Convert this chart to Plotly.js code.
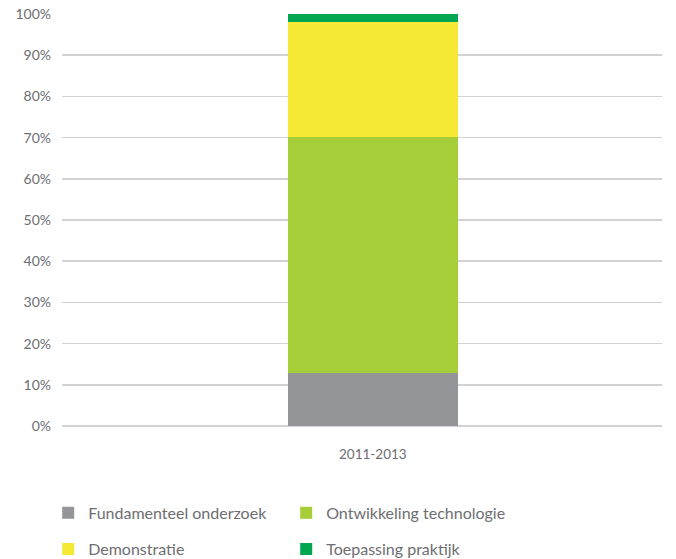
<!DOCTYPE html>
<html><head><meta charset="utf-8">
<script src="https://cdn.plot.ly/plotly-3.0.1.min.js"></script>
<style>html,body{margin:0;padding:0;background:#fff}#chart{width:676px;height:559px}</style>
</head><body><div id="chart"></div>
<script>
const categories = ['2011-2013'];
const seriesNames = ['Fundamenteel onderzoek','Ontwikkeling technologie','Demonstratie','Toepassing praktijk'];
const fundamenteel = [12.9];
const ontwikkeling = [57.2];
const demonstratie = [28.0];
const toepassing = [1.9];
const colors = ['#939598','#a6ce39','#f5e935','#00a650'];
const values = [fundamenteel, ontwikkeling, demonstratie, toepassing];
const legendIds = ['legend','legend','legend2','legend2'];
const font = 'Lato, "Open Sans", sans-serif';
const txt = '#6d6e71';

const traces = values.map((v,i)=>({
  type:'bar', x:categories, y:v, name:seriesNames[i],
  marker:{color:colors[i], line:{width:0}},
  legend: legendIds[i], hoverinfo:'none'
}));

const legendBase = {orientation:'h', xanchor:'left', yanchor:'middle', x:-0.023,
  font:{family:font,size:16,color:txt}, entrywidth:193, entrywidthmode:'pixels',
  bgcolor:'rgba(0,0,0,0)', traceorder:'normal', itemclick:false};

const layout = {
  width:676, height:559,
  margin:{l:62, r:14, t:14, b:133, autoexpand:false},
  paper_bgcolor:'#fff', plot_bgcolor:'#fff',
  barmode:'stack', bargap:0.717,
  font:{family:font, color:txt, size:13},
  xaxis:{range:[-0.518,0.482], showgrid:false, zeroline:false, showline:false, ticks:'', ticklabelstandoff:18,
    tickfont:{family:font,size:13.5,color:txt}},
  yaxis:{range:[0,100], tickvals:[0,10,20,30,40,50,60,70,80,90,100],
    ticktext:['0%','10%','20%','30%','40%','50%','60%','70%','80%','90%','100%'],
    showgrid:true, gridcolor:'#d1d2d4', gridwidth:1.5, zeroline:true, zerolinecolor:'#d1d2d4', zerolinewidth:1.5,
    showline:false, ticks:'', ticklabelstandoff:10, tickfont:{family:font,size:14,color:txt}},
  showlegend:true,
  legend:Object.assign({}, legendBase, {y:-0.211}),
  legend2:Object.assign({}, legendBase, {y:-0.2985})
};
Plotly.newPlot('chart', traces, layout, {displayModeBar:false, staticPlot:true});
</script></body></html>
